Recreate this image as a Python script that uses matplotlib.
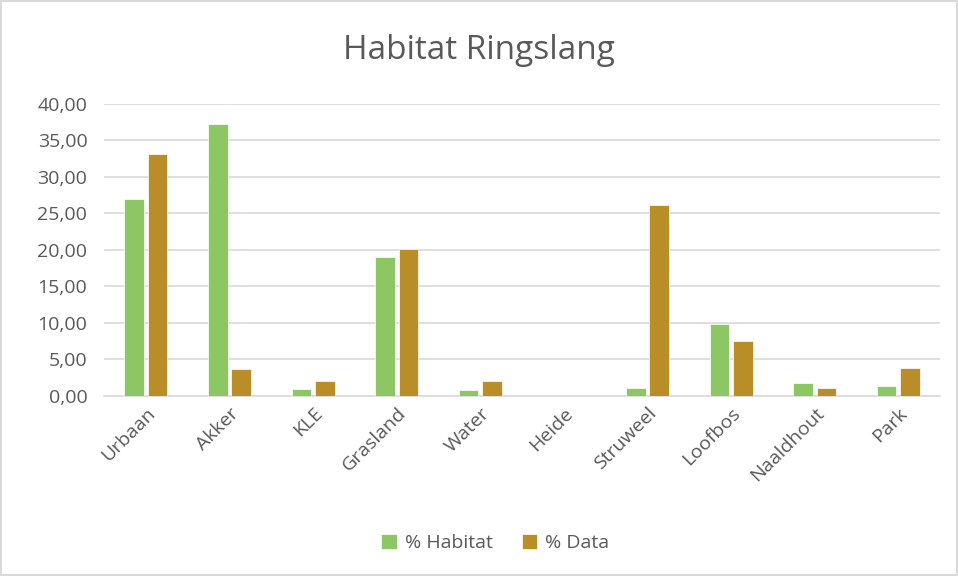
import matplotlib.pyplot as plt
import numpy as np

categories = ['Urbaan', 'Akker', 'KLE', 'Grasland', 'Water', 'Heide',
              'Struweel', 'Loofbos', 'Naaldhout', 'Park']
habitat = [27.0, 37.25, 0.92, 19.0, 0.78, 0.0, 1.06, 9.9, 1.75, 1.43]
data = [33.15, 3.73, 2.12, 20.07, 2.12, 0.0, 26.15, 7.55, 1.06, 3.78]
yticks = [0, 5, 10, 15, 20, 25, 30, 35, 40]

green = '#8CC764'
brown = '#B98D28'
text_col = '#595959'

plt.rcParams['font.family'] = ['Open Sans', 'DejaVu Sans']

fig = plt.figure(figsize=(9.58, 5.76), dpi=100)
fig.patch.set_edgecolor('#D9D9D9')
fig.patch.set_linewidth(1.5)
ax = fig.add_axes([0.1086, 0.3125, 0.8727, 0.507])

x = np.arange(len(categories))
w = 0.235
ax.bar(x - 0.14, habitat, width=w, color=green, edgecolor='white', linewidth=0.5,
       label='% Habitat', zorder=3)
ax.bar(x + 0.14, data, width=w, color=brown, edgecolor='white', linewidth=0.5,
       label='% Data', zorder=3)

ax.set_xlim(-0.5, len(categories) - 0.5)
ax.set_ylim(0, 40)
ax.set_yticks(yticks)
ax.set_yticklabels([('%.2f' % v).replace('.', ',') for v in yticks],
                   fontsize=14, color=text_col)
ax.set_xticks(x)
ax.set_xticklabels(categories, rotation=45, ha='right', rotation_mode='anchor',
                   fontsize=14, color=text_col)
ax.tick_params(axis='both', length=0)
ax.tick_params(axis='y', pad=12)
ax.tick_params(axis='x', pad=6)
ax.grid(axis='y', color='#D9D9D9', linewidth=1.2, zorder=0)
for s in ['top', 'right', 'left']:
    ax.spines[s].set_visible(False)
ax.spines['bottom'].set_color('#D9D9D9')
ax.spines['bottom'].set_linewidth(1.2)

fig.text(0.5, 0.912, 'Habitat Ringslang', ha='center', va='center',
         fontsize=24, color=text_col)
fig.legend(loc='center', bbox_to_anchor=(0.517, 0.057), ncol=2, frameon=False,
           fontsize=14, labelcolor=text_col, handlelength=0.8, handleheight=0.8,
           columnspacing=1.5, handletextpad=0.4)

plt.savefig('out.png', dpi=100)
